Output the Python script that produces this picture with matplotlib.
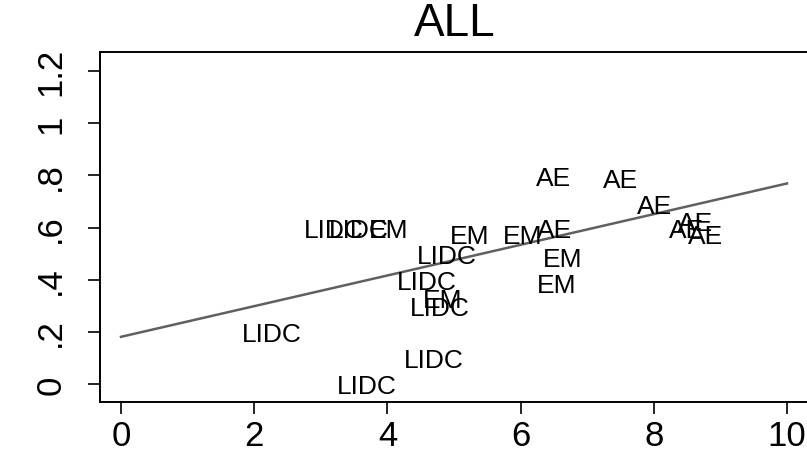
import numpy as np
import matplotlib as mpl
mpl.use('Agg')
import matplotlib.pyplot as plt

# group label and position of each observation (label drawn right of point)
groups = ["LIDC", "LIDC", "LIDC", "LIDC", "LIDC", "EM", "LIDC",
          "LIDC", "LIDC", "EM", "EM", "EM", "AE", "EM", "EM",
          "AE", "AE", "AE", "AE", "AE", "AE"]
xvals = [1.77, 3.20, 4.20, 4.10, 4.40, 4.49, 4.29,
         2.70, 3.08, 3.68, 4.89, 5.69, 6.20, 6.29, 6.20,
         6.19, 7.19, 7.70, 8.18, 8.32, 8.47]
yvals = [0.20, 0.00, 0.10, 0.40, 0.50, 0.33, 0.30,
         0.60, 0.60, 0.60, 0.575, 0.575, 0.60, 0.49, 0.39,
         0.80, 0.79, 0.69, 0.60, 0.625, 0.575]

xticks = [0, 2, 4, 6, 8, 10]
yticks = [0, 0.2, 0.4, 0.6, 0.8, 1.0, 1.2]
ytick_labels = ["0", ".2", ".4", ".6", ".8", "1", "1.2"]

plt.rcParams['font.family'] = ['Liberation Sans', 'DejaVu Sans']

fig = plt.figure(figsize=(8.07, 4.56), dpi=100)
ax = fig.add_axes([100/807, 1 - 403/456, 1 - 100/807, 350/456])

# linear fit
slope, icpt = np.polyfit(xvals, yvals, 1)
fx = np.array([0, 10])
ax.plot(fx, icpt + slope*fx, color='#606060', lw=1.8, zorder=1)

for g, x, y in zip(groups, xvals, yvals):
    ax.annotate(g, (x, y), xytext=(2, -6.8), textcoords='offset points',
                ha='left', va='baseline', fontsize=19, color='black', zorder=2)

ax.set_xlim(-0.315, 10.30)
ax.set_ylim(-0.069, 1.273)
ax.set_xticks(xticks)
ax.set_yticks(yticks)
ax.set_yticklabels(ytick_labels, rotation=90, va='center')
ax.tick_params(axis='both', direction='out', length=8.5, width=1.2,
               labelsize=25, colors='black')
ax.tick_params(axis='x', pad=4)
ax.tick_params(axis='y', pad=15)
for s in ['left', 'bottom', 'top']:
    ax.spines[s].set_linewidth(1.4)
ax.spines['right'].set_visible(False)

fig.text(455/807, 1 - 24/456, "ALL", ha='center', va='center', fontsize=33)

fig.savefig("out.png", dpi=100, facecolor='white')
